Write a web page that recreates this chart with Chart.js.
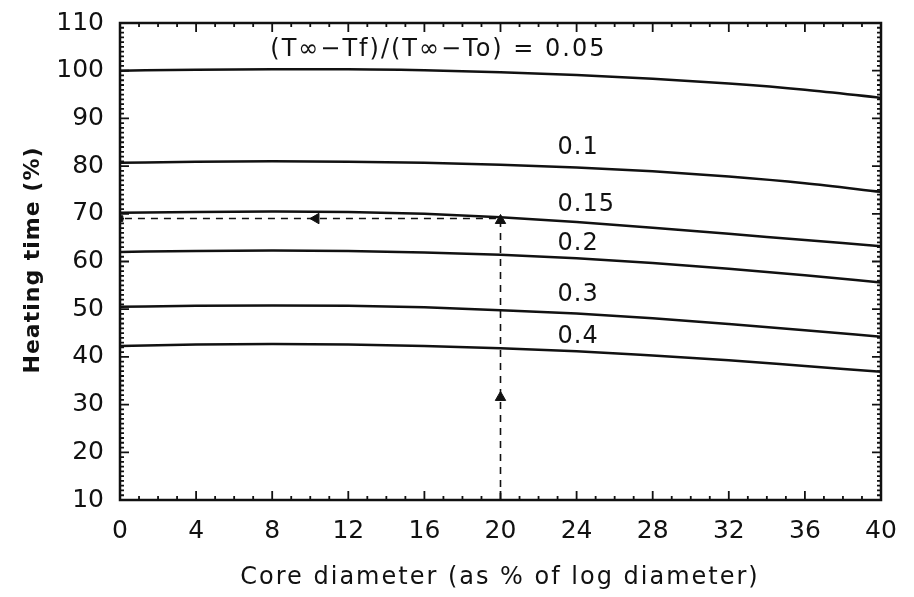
<!DOCTYPE html>
<html>
<head>
<meta charset="utf-8">
<script src="https://cdn.jsdelivr.net/npm/chart.js@4"></script>
<style>
body { margin: 0; background: #fff; }
#wrap { width: 914px; height: 597px; }
</style>
</head>
<body>
<div id="wrap"><canvas id="myChart"></canvas></div>
<script>
var xValues = [0, 4, 8, 12, 16, 20, 24, 28, 32, 36, 40];
var ratios = ['0.05', '0.1', '0.15', '0.2', '0.3', '0.4'];
var heat005 = [100.0, 100.2, 100.3, 100.3, 100.1, 99.7, 99.1, 98.3, 97.3, 96.0, 94.3];
var heat01 = [80.7, 80.9, 81.0, 80.9, 80.7, 80.3, 79.7, 78.9, 77.8, 76.4, 74.6];
var heat015 = [70.2, 70.4, 70.5, 70.4, 70.0, 69.3, 68.3, 67.1, 65.8, 64.5, 63.2];
var heat02 = [62.0, 62.2, 62.3, 62.2, 61.9, 61.4, 60.7, 59.7, 58.5, 57.1, 55.6];
var heat03 = [50.5, 50.7, 50.8, 50.7, 50.4, 49.8, 49.1, 48.1, 46.9, 45.6, 44.2];
var heat04 = [42.3, 42.6, 42.7, 42.6, 42.3, 41.8, 41.2, 40.3, 39.3, 38.1, 36.9];
var series = [heat005, heat01, heat015, heat02, heat03, heat04];

// curve labels: [x, y] in data units
var labelX = [7.9, 23, 23, 23, 23, 23];
var labelY = [104.3, 83.8, 71.8, 63.7, 53.0, 44.2];
var labelText = ['(T\u221e\u2212Tf)/(T\u221e\u2212To) = 0.05', '0.1', '0.15', '0.2', '0.3', '0.4'];

// example reading: core 20% -> heating time 69%
var readX = [20, 20, 0];
var readY = [10, 69, 69];
var arrowX = [20, 20, 10.3];
var arrowY = [31.5, 68.6, 69];
var arrowRot = [0, 0, -90];

var xTitle = 'Core diameter (as % of log diameter)';
var yTitle = 'Heating time (%)';

var FONT = 'DejaVu Sans';
var INK = '#111';

function toPts(ys) {
  return xValues.map(function (x, i) { return { x: x, y: ys[i] }; });
}

var datasets = series.map(function (ys, i) {
  return {
    label: ratios[i],
    data: toPts(ys),
    borderColor: INK,
    borderWidth: 2.5,
    pointRadius: 0,
    cubicInterpolationMode: 'monotone',
    fill: false
  };
});

datasets.push({
  label: 'reading',
  data: readX.map(function (x, i) { return { x: x, y: readY[i] }; }),
  borderColor: INK,
  borderWidth: 1.6,
  borderDash: [7, 6],
  pointRadius: 0,
  tension: 0
});

datasets.push({
  label: 'arrows',
  data: arrowX.map(function (x, i) { return { x: x, y: arrowY[i] }; }),
  showLine: false,
  pointStyle: 'triangle',
  rotation: arrowRot,
  pointRadius: 6,
  backgroundColor: INK,
  borderColor: INK
});

datasets.push({
  label: 'start',
  data: [{ x: 0, y: 69 }],
  showLine: false,
  pointStyle: 'rect',
  pointRadius: 4,
  backgroundColor: INK,
  borderColor: INK
});

var frame = {
  id: 'frame',
  afterDatasetsDraw: function (chart) {
    var ctx = chart.ctx, a = chart.chartArea;
    var xs = chart.scales.x, ys = chart.scales.y;
    ctx.save();
    ctx.strokeStyle = INK;
    ctx.lineWidth = 2.5;
    ctx.strokeRect(a.left, a.top, a.right - a.left, a.bottom - a.top);
    ctx.lineWidth = 1.8;
    ctx.beginPath();
    for (var v = 0; v <= 40; v++) {
      var px = xs.getPixelForValue(v);
      var len = v % 4 === 0 ? 9 : 4;
      ctx.moveTo(px, a.bottom); ctx.lineTo(px, a.bottom - len);
      ctx.moveTo(px, a.top); ctx.lineTo(px, a.top + len);
    }
    for (var w = 10; w <= 110; w++) {
      var py = ys.getPixelForValue(w);
      var l2 = w % 10 === 0 ? 9 : 4;
      ctx.moveTo(a.left, py); ctx.lineTo(a.left + l2, py);
      ctx.moveTo(a.right, py); ctx.lineTo(a.right - l2, py);
    }
    ctx.stroke();

    ctx.fillStyle = INK;
    ctx.textBaseline = 'middle';
    ctx.textAlign = 'left';
    labelText.forEach(function (t, i) {
      ctx.font = '24px ' + FONT;
      ctx.letterSpacing = i === 0 ? '2px' : '1px';
      ctx.fillText(t, xs.getPixelForValue(labelX[i]), ys.getPixelForValue(labelY[i]));
    });

    // axis titles
    ctx.textAlign = 'center';
    ctx.font = '24px ' + FONT;
    ctx.letterSpacing = '2px';
    ctx.fillText(xTitle, 500, 578);
    ctx.translate(33, 260);
    ctx.rotate(-Math.PI / 2);
    ctx.font = 'bold 22px ' + FONT;
    ctx.letterSpacing = '1px';
    ctx.fillText(yTitle, 0, 0);
    ctx.restore();
  }
};

new Chart('myChart', {
  type: 'line',
  data: { datasets: datasets },
  options: {
    responsive: true,
    maintainAspectRatio: false,
    animation: false,
    layout: { padding: { top: 23, right: 33, left: 0, bottom: 0 } },
    plugins: { legend: { display: false }, tooltip: { enabled: false } },
    scales: {
      x: {
        type: 'linear',
        min: 0, max: 40,
        afterFit: function (s) { s.height = 97; s.paddingLeft = 0; s.paddingRight = 0; },
        grid: { display: false, drawTicks: false },
        border: { display: false },
        ticks: { stepSize: 4, padding: 16, color: INK, font: { family: FONT, size: 25 } }
      },
      y: {
        min: 10, max: 110,
        afterFit: function (s) { s.width = 120; s.paddingTop = 0; s.paddingBottom = 0; },
        grid: { display: false, drawTicks: false },
        border: { display: false },
        ticks: { stepSize: 10, padding: 16, color: INK, font: { family: FONT, size: 25 } }
      }
    }
  },
  plugins: [frame]
});
</script>
</body>
</html>
